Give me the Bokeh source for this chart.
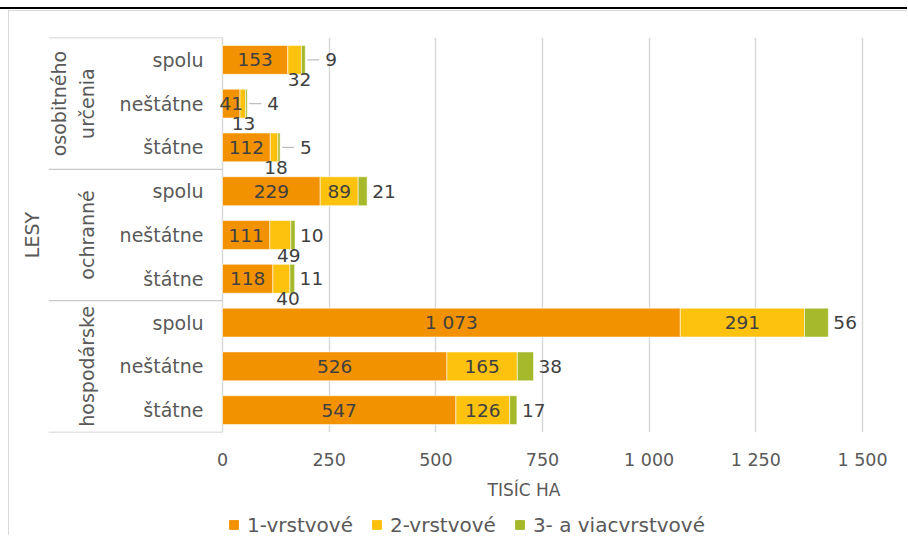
import math
from bokeh.plotting import figure
from bokeh.models import (ColumnDataSource, Range1d, FixedTicker, Legend, LegendItem, Title)
from bokeh.core.properties import value
from bokeh.embed import file_html
from bokeh.resources import INLINE
from bokeh.layouts import column

# ---------------- data ----------------
groups = ["osobitného\nurčenia", "ochranné", "hospodárske"]
subgroups = ["spolu", "neštátne", "štátne"]
vrst1 = [153, 41, 112, 229, 111, 118, 1073, 526, 547]
vrst2 = [32, 13, 18, 89, 49, 40, 291, 165, 126]
vrst3 = [9, 4, 5, 21, 10, 11, 56, 38, 17]
series_names = ["1-vrstvové", "2-vrstvové", "3- a viacvrstvové"]
x_ticks = [0, 250, 500, 750, 1000, 1250, 1500]
x_tick_labels = ["0", "250", "500", "750", "1 000", "1 250", "1 500"]
x_title = "TISÍC HA"
y_title = "LESY"

# ---------------- style ----------------
FONT = "DejaVu Sans"
AXIS_COLOR = "#595959"
LABEL_COLOR = "#404040"
GRID_COLOR = "#d9d9d9"
SEP_COLOR = "#c8c8c8"
COLORS = ["#F39200", "#FDC20E", "#A5B92A"]

W, H = 899, 504
LEG_H = 21
FRAME_L, FRAME_R, FRAME_T, FRAME_B = 39, 855, 26, 421
PX_PER_UNIT = 640 / 1500
LABEL_AREA_PX = 174
x_start = -LABEL_AREA_PX / PX_PER_UNIT
x_end = x_start + (FRAME_R - FRAME_L) / PX_PER_UNIT

n_sub = len(subgroups)
n = len(groups) * n_sub
ys = [n - 1 - i for i in range(n)]
row_group = [i // n_sub for i in range(n)]
row_sub = [subgroups[i % n_sub] for i in range(n)]

def fmt(v):
    return f"{v:,}".replace(",", " ")

p = figure(width=W, height=H, output_backend="svg", toolbar_location=None,
           x_range=Range1d(x_start, x_end), y_range=Range1d(-0.51, n - 1 + 0.51),
           outline_line_color=None, background_fill_color="white",
           border_fill_color="white")
p.min_border = 0
p.min_border_left = FRAME_L
p.min_border_right = W - FRAME_R
p.min_border_top = FRAME_T
p.min_border_bottom = H - FRAME_B

src = ColumnDataSource(dict(y=ys, v1=vrst1, v2=vrst2, v3=vrst3))
bars = p.hbar_stack(["v1", "v2", "v3"], y="y", height=0.66, source=src,
                    color=COLORS, line_color="white", line_alpha=0.55, line_width=1)

# axes
p.xaxis.ticker = FixedTicker(ticks=x_ticks)
p.xaxis.major_label_overrides = {t: l for t, l in zip(x_ticks, x_tick_labels)}
p.xaxis.axis_line_color = None
p.xaxis.major_tick_line_color = None
p.xaxis.minor_tick_line_color = None
p.xaxis.major_tick_out = 0
p.xaxis.major_label_standoff = 17
p.xaxis.major_label_text_font = FONT
p.xaxis.major_label_text_font_size = "17.5px"
p.xaxis.major_label_text_color = AXIS_COLOR

p.yaxis.ticker = FixedTicker(ticks=[])
p.yaxis.axis_line_color = None
p.yaxis.major_tick_line_color = None
p.yaxis.minor_tick_line_color = None
p.yaxis.major_tick_out = 0
p.yaxis.major_label_standoff = 0
p.yaxis.axis_label = y_title
p.yaxis.axis_label_standoff = 6
p.yaxis.axis_label_text_font = FONT
p.yaxis.axis_label_text_font_size = "19px"
p.yaxis.axis_label_text_font_style = "normal"
p.yaxis.axis_label_text_color = AXIS_COLOR

p.xgrid.ticker = FixedTicker(ticks=x_ticks)
p.xgrid.grid_line_color = GRID_COLOR
p.xgrid.grid_line_width = 1.5
p.ygrid.visible = False

# category label area: separators
sep_y = [n - 0.5 - n_sub * g for g in range(len(groups) + 1)]
sep_y[0] = n - 0.5 + 0.005
sep_y[-1] = -0.5 - 0.005
p.segment(x0=[x_start] * len(sep_y), x1=[0] * len(sep_y), y0=sep_y, y1=sep_y,
          line_color=SEP_COLOR, line_width=1.2)

# subgroup labels
p.text(x=[0] * n, y=ys, text=row_sub, x_offset=-19, text_align="right",
       text_baseline="middle", text_font=value(FONT), text_font_size="19px",
       text_color=AXIS_COLOR)

# group labels (rotated)
gy = [sum(ys[g * n_sub:(g + 1) * n_sub]) / n_sub for g in range(len(groups))]
p.text(x=[0] * len(groups), y=gy, text=groups, x_offset=-125, angle=math.pi / 2,
       text_align="center", text_baseline="bottom", text_font=value(FONT),
       text_font_size="19px", text_color=AXIS_COLOR, text_line_height=1.25)

# data labels series 1 (centered)
p.text(x=[v / 2 for v in vrst1], y=ys, text=[fmt(v) for v in vrst1],
       text_align="center", text_baseline="middle", text_font=value(FONT),
       text_font_size="18.5px", text_color=LABEL_COLOR)

# data labels series 2
INSIDE_MIN = 60
in_x, in_y, in_t, out_x, out_y, out_t = [], [], [], [], [], []
for a, b, y in zip(vrst1, vrst2, ys):
    if b >= INSIDE_MIN:
        in_x.append(a + b / 2); in_y.append(y); in_t.append(fmt(b))
    else:
        out_x.append(a + b); out_y.append(y); out_t.append(fmt(b))
p.text(x=in_x, y=in_y, text=in_t, text_align="center", text_baseline="middle",
       text_font=value(FONT), text_font_size="18.5px", text_color=LABEL_COLOR)
p.text(x=out_x, y=out_y, text=out_t, x_offset=-2, y_offset=20, text_align="center",
       text_baseline="middle", text_font=value(FONT), text_font_size="18.5px",
       text_color=LABEL_COLOR)

# data labels series 3 (outside end)
totals = [a + b + c for a, b, c in zip(vrst1, vrst2, vrst3)]
lead = [g == 0 for g in row_group]
p.text(x=totals, y=ys, text=[fmt(v) for v in vrst3],
       x_offset=[20 if l else 5 for l in lead], text_align="left", text_baseline="middle",
       text_font=value(FONT), text_font_size="18.5px", text_color=LABEL_COLOR)
lx = [t for t, l in zip(totals, lead) if l]
ly = [y for y, l in zip(ys, lead) if l]
p.segment(x0=[t + 2 / PX_PER_UNIT for t in lx], x1=[t + 14 / PX_PER_UNIT for t in lx],
          y0=ly, y1=ly, line_color="#bfbfbf", line_width=1.2)

# x axis title (below panel, shifted like the original)
p.add_layout(Title(text=x_title, align="left", offset=439, standoff=12,
                   vertical_align="middle", text_font=FONT, text_font_size="17px",
                   text_font_style="normal", text_color=AXIS_COLOR), "below")

# legend strip (separate small figure under the chart); swatch renderers sit
# outside the strip's visible range so only their legend swatches show
p2 = figure(width=W, height=LEG_H, output_backend="svg", toolbar_location=None,
            x_range=Range1d(0, 1), y_range=Range1d(0, 1),
            x_axis_location=None, y_axis_location=None,
            outline_line_color=None, background_fill_color="white",
            border_fill_color="white")
p2.min_border = 0
p2.grid.visible = False
leg_r = [p2.hbar(y=[-10], right=[1], height=0.5, color=c) for c in COLORS]
legend = Legend(items=[LegendItem(label=nm, renderers=[r]) for nm, r in zip(series_names, leg_r)],
                orientation="horizontal", location="center_left", margin=180,
                glyph_width=11, glyph_height=11, label_standoff=8, spacing=18,
                padding=0, border_line_color=None, background_fill_alpha=0,
                label_text_font=FONT, label_text_font_size="20px", label_text_color=AXIS_COLOR)
p2.add_layout(legend, "center")

p.styles = {"border-left": "1px solid #d9d9d9", "border-top": "1px solid #d9d9d9",
            "margin-left": "8px"}
p2.styles = {"border-left": "1px solid #d9d9d9", "margin-left": "8px"}
layout = column(p, p2, spacing=0,
                styles={"border-top": "2px solid #000000", "padding-top": "1px",
                        "margin-top": "7px"})

open("out.html", "w").write(file_html(layout, INLINE))
